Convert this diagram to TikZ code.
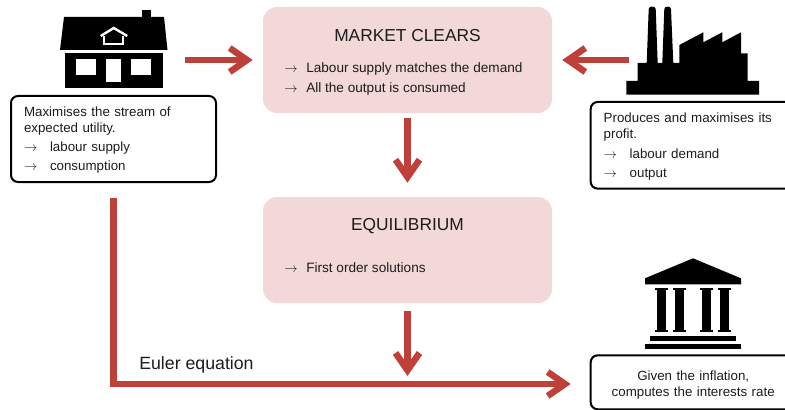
\documentclass[tikz,border=0pt]{standalone}
\usepackage{fontspec}
\setmainfont{Liberation Sans}
\usepackage{xcolor}
\usetikzlibrary{calc}
\usetikzlibrary{arrows.meta}
\definecolor{C0}{HTML}{BF3F39}
\definecolor{C1}{HTML}{F2D8D6}
\definecolor{C2}{HTML}{1C1C1C}
\def\px{0.75pt}
\newcommand{\arrowline}[2][19.5pt]{\makebox[#1][l]{$\rightarrow$}#2}

\tikzset{
redarrow/.style = {draw=C0,line width=6.5*\px,-{Straight Barb[length=13pt,width=18pt]}},
pinkbox/.style = {fill=C1,rounded corners=14*\px,minimum width=289*\px,minimum height=106*\px,inner sep=0pt},
infobox/.style = {draw,line width=2*\px,rounded corners=7*\px,text=C2,font=\fontsize{10}{12}\selectfont,text width=179*\px,inner xsep=13*\px,inner ysep=0pt,minimum width=205*\px,align=left},
plain/.style = {text=C2,inner sep=0pt,align=left},
pics/house/.style = {
background code = {
		\node (-r) at (0,0) [minimum width=107.5*\px,minimum height=78*\px,inner sep=0pt] {};
		\fill (-49.75,-32) -- (50.25,-32) -- (53.75,1) -- (-53.75,1) -- cycle;
		\fill (28.25,-39) rectangle (37.25,-32);
		\fill (-49.25,4) rectangle (49.25,39);
		\fill[white] (-37.75,10) rectangle (-17.75,26);
		\fill[white] (-7.75,10) rectangle (7.25,33);
		\fill[white] (17.25,10) rectangle (37.25,26);
		\draw[white,line width=2.4*\px] (-13,-13) -- (0,-21) -- (13.5,-13);
		\draw[white,line width=1.6*\px] (-9.5,-13) -- (-9.5,-5) -- (9.5,-5) -- (9.5,-13);
}
},
pics/factory/.style = {
background code = {
		\node (-r) at (0,0) [minimum width=132.7*\px,minimum height=87.7*\px,inner sep=0pt] {};
		\fill (-66.2,43.7) -- (-66.2,30) -- (-54.8,30) -- (-54.8,12) -- (-45.8,12) -- (-43.8,-42)
			to[out=90,in=90,looseness=1.2] (-36.8,-42) -- (-34.8,12) -- (-30.2,12) -- (-28.2,-42)
			to[out=90,in=90,looseness=1.2] (-21.5,-42) -- (-19.2,12) -- (-13.2,12) -- (-13.2,-6)
			-- (10.8,-18.7) -- (10.8,-8.7) -- (29.8,-18.7) -- (29.8,-8.7) -- (48.5,-18.7)
			-- (48.5,2.3) -- (55.2,2.3) -- (55.2,30) -- (66.5,30) -- (66.5,43.7) -- cycle;
}
},
pics/bank/.style = {
background code = {
		\node (-r) at (0,0) [minimum width=96*\px,minimum height=91*\px,inner sep=0pt] {};
		\fill (0,-45.5) -- (48,-25.5) -- (48,-19.5) -- (-48,-19.5) -- (-48,-25.5) -- cycle;
		\foreach \xcol in {-31.5,-13.5,13.5,31.5}{
			\fill (\xcol-4.2,-15.5) rectangle (\xcol+4.2,28.5);
			\fill (\xcol-6.4,-15.5) rectangle (\xcol+6.4,-13.5);
			\fill (\xcol-6.4,26.5) rectangle (\xcol+6.4,28.5);
		}
		\fill (-43.3,31.9) rectangle (43.3,37.2);
		\fill (-48,40.2) rectangle (48,45.5);
}
}
}

\begin{document}
\begin{tikzpicture}[x=\px,y=-\px]
\useasboundingbox (0,0) rectangle (785,410);

\pic(house) at (113.75,49) {house};
\pic(factory) at (692.5,51) {factory};
\pic(bank) at (693,303.8) {bank};

\node (market) at (407.5,60) [pinkbox] {};
\node (equil) at (407.5,250) [pinkbox] {};

\node (markettitle) at (407.5,36) [plain,font=\fontsize{13}{15}\selectfont] {MARKET CLEARS};
\node (marketlist) at (284,78.5) [plain,anchor=west,font=\fontsize{10.2}{15}\selectfont] {\arrowline[16.5pt]{Labour supply matches the demand}\\\arrowline[16.5pt]{All the output is consumed}};
\node (equiltitle) at (407.5,226.5) [plain,font=\fontsize{13}{15}\selectfont] {EQUILIBRIUM};
\node (equillist) at (284,268) [plain,anchor=west,font=\fontsize{10.2}{15}\selectfont] {\arrowline[16.5pt]{First order solutions}};

\node (houseinfo) at (113.5,139) [infobox,minimum height=86*\px] {\rule{0pt}{8.8pt}Maximises the stream of\\expected utility.\\[2.5pt]\arrowline{labour supply}\\[2.5pt]\arrowline{consumption}};
\node (factoryinfo) at (693.2,145.3) [infobox,minimum height=86.7*\px] {\rule{0pt}{9.5pt}Produces and maximises its\\profit.\\[2.5pt]\arrowline{labour demand}\\[2.5pt]\arrowline{output}};
\node (bankinfo) at (693.2,382.3) [infobox,minimum height=54*\px,align=center] {\rule{0pt}{11.8pt}Given the inflation,\\computes the interests rate};

\node (euler) at (139,364.5) [plain,anchor=west,font=\fontsize{13.3}{15}\selectfont] {Euler equation};
\coordinate (join) at (407.5,376);

\draw[redarrow,shorten <=17*\px,shorten >=10*\px] (house-r.east |- market.west) -- (market.west);
\draw[redarrow,shorten <=-3.5*\px,shorten >=10*\px] (factory-r.west |- market.east) -- (market.east);
\draw[redarrow,shorten <=5*\px,shorten >=14*\px] (market.south) -- (equil.north);
\draw[redarrow,shorten <=8*\px] (equil.south) -- (join);
\draw[redarrow,shorten <=15*\px,shorten >=19*\px] (houseinfo.south) |- (bankinfo.west |- 0,384);

\end{tikzpicture}
\end{document}
